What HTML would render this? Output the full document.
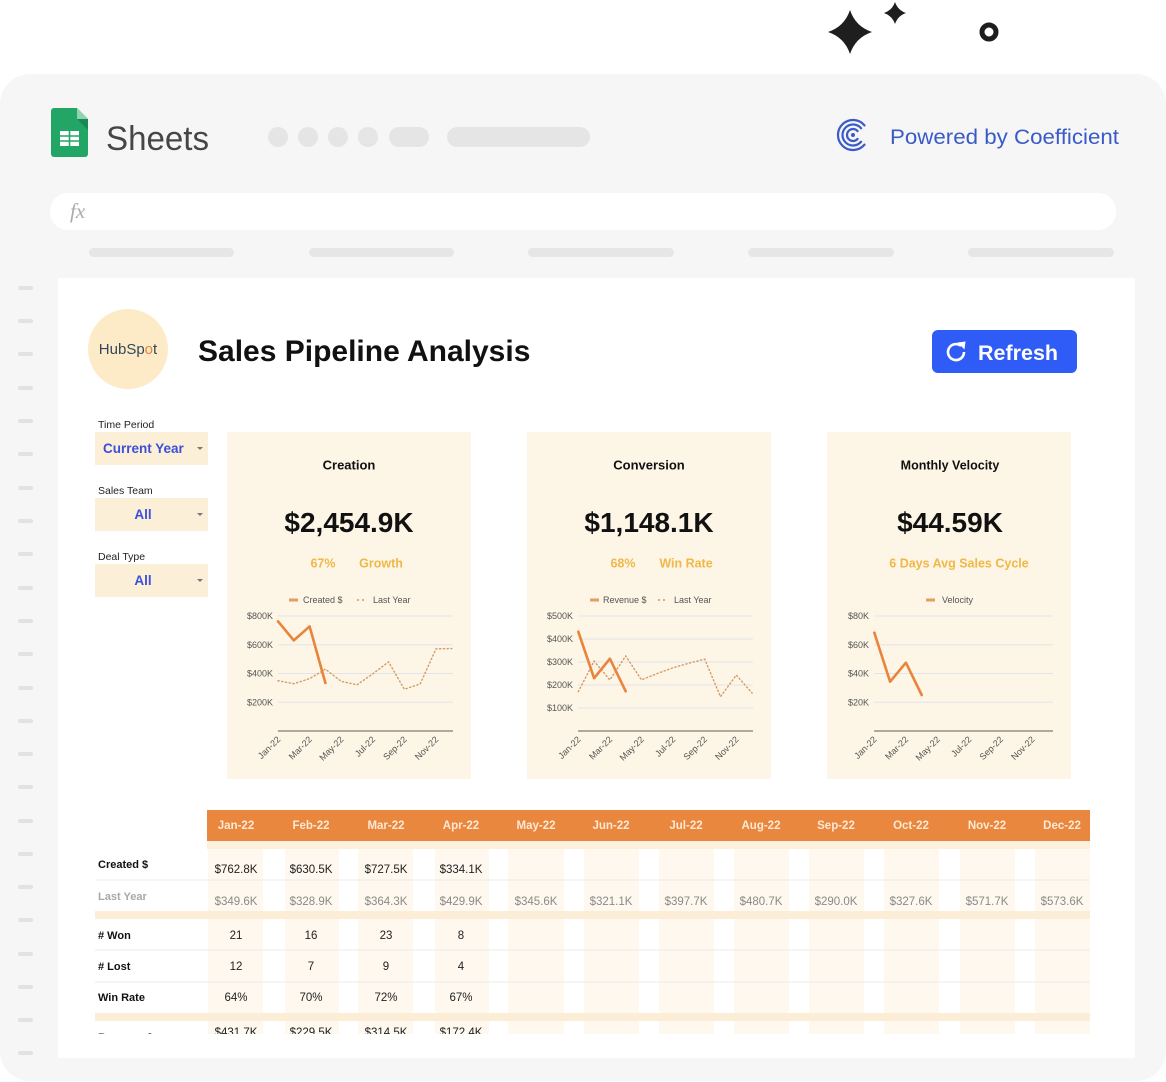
<!DOCTYPE html>
<html><head><meta charset="utf-8"><style>
html,body{margin:0;padding:0;background:#fff;}
body{width:1166px;height:1082px;overflow:hidden;}
svg{display:block;}
text{font-family:"Liberation Sans",sans-serif;}
</style></head><body>
<svg width="1166" height="1082" viewBox="0 0 1166 1082" xmlns="http://www.w3.org/2000/svg">
<defs>
<clipPath id="tblclip"><rect x="58" y="278" width="1077" height="756"/></clipPath>
</defs>
<rect width="1166" height="1082" fill="#fff"/>
<!-- sparkles -->
<path d="M850,10 Q855.5,26.5 872,32 Q855.5,37.5 850,54 Q844.5,37.5 828,32 Q844.5,26.5 850,10Z" fill="#1e1e1e"/>
<path d="M895,2 Q897.8,10.2 906,13 Q897.8,15.8 895,24 Q892.2,15.8 884,13 Q892.2,10.2 895,2Z" fill="#1e1e1e"/>
<circle cx="989" cy="32" r="7" fill="none" stroke="#1e1e1e" stroke-width="5"/>
<!-- panel -->
<rect x="0" y="74" width="1166" height="1007" rx="30" fill="#f6f6f6"/>
<!-- sheets icon -->
<path d="M51,111 a3,3 0 0 1 3,-3 H77 L88,119 V154 a3,3 0 0 1 -3,3 H54 a3,3 0 0 1 -3,-3 Z" fill="#23a566"/>
<path d="M77,119 L88,130 V119 Z" fill="#1a8a52"/>
<path d="M77,108 V119 H88 Z" fill="#8fd3b3"/>
<rect x="60" y="131" width="19" height="15" fill="#fff"/>
<line x1="69.5" y1="131" x2="69.5" y2="146" stroke="#23a566" stroke-width="1.6"/>
<line x1="60" y1="136" x2="79" y2="136" stroke="#23a566" stroke-width="1.4"/>
<line x1="60" y1="141" x2="79" y2="141" stroke="#23a566" stroke-width="1.4"/>
<text x="106" y="150" font-size="34" fill="#464646" textLength="103" lengthAdjust="spacingAndGlyphs">Sheets</text>
<!-- gray placeholders -->
<g fill="#e5e5e5">
<circle cx="278" cy="137" r="10"/><circle cx="308" cy="137" r="10"/><circle cx="338" cy="137" r="10"/><circle cx="368" cy="137" r="10"/>
<rect x="389" y="127" width="40" height="20" rx="10"/>
<rect x="447" y="127" width="143" height="20" rx="10"/>
</g>
<!-- coefficient -->
<g fill="none" stroke="#3a5bc7" stroke-width="2.2" stroke-linecap="round">
<path d="M864.49,144.64 A15,15 0 1 1 864.49,125.36"/>
<path d="M861.04,141.75 A10.5,10.5 0 1 1 861.04,128.25"/>
<path d="M857.6,138.86 A6,6 0 1 1 857.6,131.14"/>
</g>
<circle cx="853" cy="135" r="2" fill="#3a5bc7"/>
<text x="890" y="144" font-size="21.5" fill="#3a5bc7" textLength="229" lengthAdjust="spacingAndGlyphs">Powered by Coefficient</text>
<!-- fx bar -->
<rect x="50" y="193" width="1066" height="37" rx="18" fill="#fff"/>
<text x="70" y="218" font-size="21" font-style="italic" fill="#aaa" style="font-family:'Liberation Serif',serif">fx</text>
<g fill="#e6e6e6">
<rect x="89" y="248" width="145" height="9" rx="4.5"/>
<rect x="309" y="248" width="145" height="9" rx="4.5"/>
<rect x="528" y="248" width="146" height="9" rx="4.5"/>
<rect x="748" y="248" width="146" height="9" rx="4.5"/>
<rect x="968" y="248" width="146" height="9" rx="4.5"/>
</g>
<!-- row markers -->
<g fill="#e2e2e2">
<rect x="18" y="286" width="15" height="4" rx="2"/><rect x="18" y="319" width="15" height="4" rx="2"/>
<rect x="18" y="352" width="15" height="4" rx="2"/><rect x="18" y="386" width="15" height="4" rx="2"/>
<rect x="18" y="419" width="15" height="4" rx="2"/><rect x="18" y="452" width="15" height="4" rx="2"/>
<rect x="18" y="486" width="15" height="4" rx="2"/><rect x="18" y="519" width="15" height="4" rx="2"/>
<rect x="18" y="552" width="15" height="4" rx="2"/><rect x="18" y="586" width="15" height="4" rx="2"/>
<rect x="18" y="619" width="15" height="4" rx="2"/><rect x="18" y="652" width="15" height="4" rx="2"/>
<rect x="18" y="686" width="15" height="4" rx="2"/><rect x="18" y="719" width="15" height="4" rx="2"/>
<rect x="18" y="752" width="15" height="4" rx="2"/><rect x="18" y="785" width="15" height="4" rx="2"/>
<rect x="18" y="819" width="15" height="4" rx="2"/><rect x="18" y="852" width="15" height="4" rx="2"/>
<rect x="18" y="885" width="15" height="4" rx="2"/><rect x="18" y="918" width="15" height="4" rx="2"/>
<rect x="18" y="952" width="15" height="4" rx="2"/><rect x="18" y="985" width="15" height="4" rx="2"/>
<rect x="18" y="1018" width="15" height="4" rx="2"/><rect x="18" y="1051" width="15" height="4" rx="2"/>
</g>
<!-- sheet -->
<rect x="58" y="278" width="1077" height="780" fill="#fff"/>
<!-- hubspot -->
<circle cx="128" cy="349" r="40" fill="#fdebc8"/>
<text x="128" y="354" font-size="15" text-anchor="middle" fill="#33475b">HubSp<tspan fill="#e8813a">o</tspan>t</text>
<text x="198" y="361" font-size="30" font-weight="bold" fill="#111">Sales Pipeline Analysis</text>
<!-- refresh -->
<rect x="932" y="330" width="145" height="43" rx="6" fill="#2f5cf6"/>
<path d="M964,352 A8,8 0 1 1 961.1,345.9" fill="none" stroke="#fff" stroke-width="2.6"/>
<polygon points="957.5,342.5 965.5,341.5 964.5,349.5" fill="#fff"/>
<text x="978" y="360" font-size="21.5" font-weight="bold" fill="#fff">Refresh</text>
<!-- filters -->
<text x="98" y="428" font-size="10.5" fill="#222">Time Period</text>
<rect x="95" y="432" width="113" height="33" fill="#fcefd8"/>
<text x="103" y="453" font-size="13.5" font-weight="bold" fill="#3b4fd8">Current Year</text>
<polygon points="197,447 203,447 200,450" fill="#777"/>
<text x="98" y="494" font-size="10.5" fill="#222">Sales Team</text>
<rect x="95" y="498" width="113" height="33" fill="#fcefd8"/>
<text x="143" y="519" font-size="13.5" font-weight="bold" fill="#3b4fd8" text-anchor="middle">All</text>
<polygon points="197,513 203,513 200,516" fill="#777"/>
<text x="98" y="560" font-size="10.5" fill="#222">Deal Type</text>
<rect x="95" y="564" width="113" height="33" fill="#fcefd8"/>
<text x="143" y="585" font-size="13.5" font-weight="bold" fill="#3b4fd8" text-anchor="middle">All</text>
<polygon points="197,579 203,579 200,582" fill="#777"/>
<!-- cards -->
<rect x="227" y="432" width="244" height="347" fill="#fdf5e5"/>
<rect x="527" y="432" width="244" height="347" fill="#fdf5e5"/>
<rect x="827" y="432" width="244" height="347" fill="#fdf5e5"/>
<g font-weight="bold" fill="#111" text-anchor="middle">
<text x="349" y="469.5" font-size="13">Creation</text>
<text x="649" y="469.5" font-size="13">Conversion</text>
<text x="950" y="469.5" font-size="12.5">Monthly Velocity</text>
<text x="349" y="532" font-size="28">$2,454.9K</text>
<text x="649" y="532" font-size="28">$1,148.1K</text>
<text x="950" y="532" font-size="28">$44.59K</text>
</g>
<g font-weight="bold" fill="#f0b848" text-anchor="middle" font-size="12.5">
<text x="323" y="567.5">67%</text><text x="381" y="567.5">Growth</text>
<text x="623" y="567.5">68%</text><text x="686" y="567.5">Win Rate</text>
<text x="959" y="567.5">6 Days Avg Sales Cycle</text>
</g>
<!-- legends -->
<g font-size="9" fill="#555">
<rect x="289" y="598.5" width="9" height="3" fill="#e0a060"/>
<text x="303" y="603">Created $</text>
<circle cx="358" cy="600" r="1.1" fill="#d9a87a"/><circle cx="363" cy="600" r="1.1" fill="#d9a87a"/>
<text x="373" y="603">Last Year</text>
<rect x="590" y="598.5" width="9" height="3" fill="#e0a060"/>
<text x="603" y="603">Revenue $</text>
<circle cx="659" cy="600" r="1.1" fill="#d9a87a"/><circle cx="664" cy="600" r="1.1" fill="#d9a87a"/>
<text x="674" y="603">Last Year</text>
<rect x="926" y="598.5" width="9" height="3" fill="#e0a060"/>
<text x="942" y="603">Velocity</text>
</g>
<!-- chart gridlines -->
<g stroke="#e3e3ea" stroke-width="1">
<line x1="278" y1="616" x2="453" y2="616"/><line x1="278" y1="644.75" x2="453" y2="644.75"/>
<line x1="278" y1="673.5" x2="453" y2="673.5"/><line x1="278" y1="702.25" x2="453" y2="702.25"/>
<line x1="578" y1="616" x2="753" y2="616"/><line x1="578" y1="639" x2="753" y2="639"/>
<line x1="578" y1="662" x2="753" y2="662"/><line x1="578" y1="685" x2="753" y2="685"/>
<line x1="578" y1="708" x2="753" y2="708"/>
<line x1="874" y1="616" x2="1053" y2="616"/><line x1="874" y1="644.75" x2="1053" y2="644.75"/>
<line x1="874" y1="673.5" x2="1053" y2="673.5"/><line x1="874" y1="702.25" x2="1053" y2="702.25"/>
</g>
<g stroke="#8c7b6b" stroke-width="1.3">
<line x1="278" y1="731" x2="453" y2="731"/>
<line x1="578" y1="731" x2="753" y2="731"/>
<line x1="874" y1="731" x2="1053" y2="731"/>
</g>
<g font-size="9" fill="#555" text-anchor="end">
<text x="273" y="619.2">$800K</text><text x="273" y="648">$600K</text><text x="273" y="676.7">$400K</text><text x="273" y="705.5">$200K</text>
<text x="573" y="619.2">$500K</text><text x="573" y="642.2">$400K</text><text x="573" y="665.2">$300K</text><text x="573" y="688.2">$200K</text><text x="573" y="711.2">$100K</text>
<text x="869" y="619.2">$80K</text><text x="869" y="648">$60K</text><text x="869" y="676.7">$40K</text><text x="869" y="705.5">$20K</text>
</g>
<!-- x labels -->
<g font-size="9" fill="#555" text-anchor="end">
<text x="281" y="740" transform="rotate(-45 281 740)">Jan-22</text>
<text x="312.6" y="740" transform="rotate(-45 312.6 740)">Mar-22</text>
<text x="344.2" y="740" transform="rotate(-45 344.2 740)">May-22</text>
<text x="375.8" y="740" transform="rotate(-45 375.8 740)">Jul-22</text>
<text x="407.4" y="740" transform="rotate(-45 407.4 740)">Sep-22</text>
<text x="439" y="740" transform="rotate(-45 439 740)">Nov-22</text>
<text x="581.3" y="740" transform="rotate(-45 581.3 740)">Jan-22</text>
<text x="612.9" y="740" transform="rotate(-45 612.9 740)">Mar-22</text>
<text x="644.5" y="740" transform="rotate(-45 644.5 740)">May-22</text>
<text x="676.1" y="740" transform="rotate(-45 676.1 740)">Jul-22</text>
<text x="707.7" y="740" transform="rotate(-45 707.7 740)">Sep-22</text>
<text x="739.3" y="740" transform="rotate(-45 739.3 740)">Nov-22</text>
<text x="877.3" y="740" transform="rotate(-45 877.3 740)">Jan-22</text>
<text x="908.9" y="740" transform="rotate(-45 908.9 740)">Mar-22</text>
<text x="940.5" y="740" transform="rotate(-45 940.5 740)">May-22</text>
<text x="972.1" y="740" transform="rotate(-45 972.1 740)">Jul-22</text>
<text x="1003.7" y="740" transform="rotate(-45 1003.7 740)">Sep-22</text>
<text x="1035.3" y="740" transform="rotate(-45 1035.3 740)">Nov-22</text>
</g>
<!-- series -->
<g fill="none" stroke="#d39a69" stroke-width="1.4" stroke-dasharray="1.2 2.6" stroke-linecap="round">
<polyline points="278,680.75 293.8,683.72 309.6,678.63 325.4,669.2 341.2,681.32 357,684.84 372.8,673.83 388.6,661.9 404.4,689.31 420.2,683.91 436,648.82 451.8,648.55"/>
<polyline points="578.3,691.7 594.1,661.1 609.9,679.9 625.7,656 641.5,679.9 657.3,673.5 673.1,667.75 688.9,663.2 704.7,659.2 720.5,696.7 736.3,675.1 752.1,693.05"/>
</g>
<g fill="none" stroke="#e8843c" stroke-width="2.6" stroke-linejoin="round" stroke-linecap="round">
<polyline points="278,621.35 293.8,640.37 309.6,626.42 325.4,682.97"/>
<polyline points="578.3,631.7 594.1,678.2 609.9,658.7 625.7,691.3"/>
<polyline points="874.3,632.7 890.1,681.7 905.9,662.7 921.7,695"/>
</g>
<!-- table -->
<g clip-path="url(#tblclip)">
<g fill="#fef8ee">
<rect x="208" y="848" width="55" height="190"/><rect x="285" y="848" width="54" height="190"/>
<rect x="358" y="848" width="55" height="190"/><rect x="435" y="848" width="54" height="190"/>
<rect x="508" y="848" width="56" height="190"/><rect x="584" y="848" width="55" height="190"/>
<rect x="659" y="848" width="55" height="190"/><rect x="734" y="848" width="55" height="190"/>
<rect x="809" y="848" width="55" height="190"/><rect x="884" y="848" width="55" height="190"/>
<rect x="960" y="848" width="55" height="190"/><rect x="1035" y="848" width="55" height="190"/>
</g>
<rect x="207" y="841" width="883" height="8" fill="#fdf0dd"/>
<rect x="95" y="911" width="995" height="8" fill="#fbedd6"/>
<rect x="95" y="1013" width="995" height="8" fill="#fbedd6"/>
<g stroke="#ebebeb" stroke-width="1">
<line x1="95" y1="880" x2="1090" y2="880"/>
<line x1="95" y1="950" x2="1090" y2="950"/>
<line x1="95" y1="982" x2="1090" y2="982"/>
</g>
<g font-size="11" font-weight="bold" fill="#111">
<text x="98" y="868">Created $</text>
<text x="98" y="900" fill="#a8a8a8">Last Year</text>
<text x="98" y="939">#&#160;Won</text>
<text x="98" y="970">#&#160;Lost</text>
<text x="98" y="1001">Win Rate</text>
<text x="98" y="1041">Revenue $</text>
</g>
<g font-size="11.5" fill="#222" text-anchor="middle">
<text x="236" y="873">$762.8K</text><text x="311" y="873">$630.5K</text><text x="386" y="873">$727.5K</text><text x="461" y="873">$334.1K</text>
<g fill="#8a8a8a">
<text x="236" y="905">$349.6K</text><text x="311" y="905">$328.9K</text><text x="386" y="905">$364.3K</text><text x="461" y="905">$429.9K</text>
<text x="536" y="905">$345.6K</text><text x="611" y="905">$321.1K</text><text x="686" y="905">$397.7K</text><text x="761" y="905">$480.7K</text>
<text x="836" y="905">$290.0K</text><text x="911" y="905">$327.6K</text><text x="987" y="905">$571.7K</text><text x="1062" y="905">$573.6K</text>
</g>
<text x="236" y="939">21</text><text x="311" y="939">16</text><text x="386" y="939">23</text><text x="461" y="939">8</text>
<text x="236" y="970">12</text><text x="311" y="970">7</text><text x="386" y="970">9</text><text x="461" y="970">4</text>
<text x="236" y="1001">64%</text><text x="311" y="1001">70%</text><text x="386" y="1001">72%</text><text x="461" y="1001">67%</text>
<text x="236" y="1036">$431.7K</text><text x="311" y="1036">$229.5K</text><text x="386" y="1036">$314.5K</text><text x="461" y="1036">$172.4K</text>
</g>
</g>
<rect x="207" y="810" width="883" height="31" fill="#e9873e"/>
<g font-size="11.5" font-weight="bold" fill="#fde9d5" text-anchor="middle">
<text x="236" y="829">Jan-22</text><text x="311" y="829">Feb-22</text><text x="386" y="829">Mar-22</text><text x="461" y="829">Apr-22</text>
<text x="536" y="829">May-22</text><text x="611" y="829">Jun-22</text><text x="686" y="829">Jul-22</text><text x="761" y="829">Aug-22</text>
<text x="836" y="829">Sep-22</text><text x="911" y="829">Oct-22</text><text x="987" y="829">Nov-22</text><text x="1062" y="829">Dec-22</text>
</g>
</svg>
</body></html>
